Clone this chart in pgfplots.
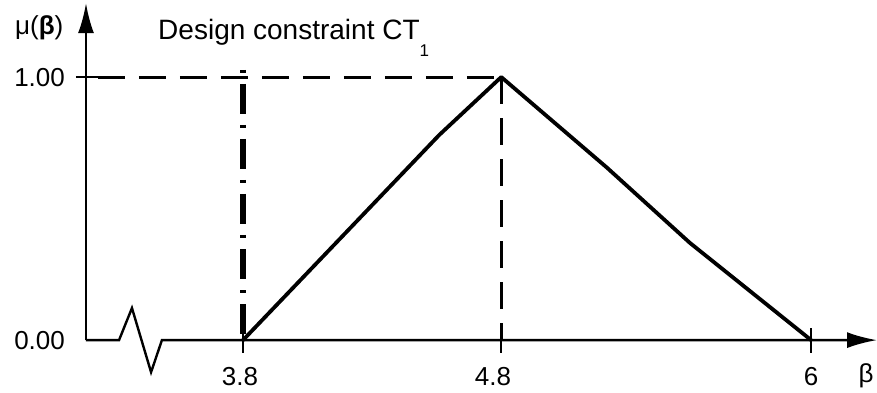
\documentclass[border=0pt]{standalone}
\usepackage{pgfplots}
\pgfplotsset{compat=1.18}
\usepackage{fontspec}
\setmainfont{Liberation Sans}
\usetikzlibrary{arrows.meta}
\tikzset{lbl/.style={font=\fontsize{26}{30}\selectfont, inner sep=0pt}}

\begin{document}
\begin{tikzpicture}
\begin{axis}[
    x=258.2pt, y=263pt,
    xmin=3.192, xmax=6.255,
    ymin=0, ymax=1.281,
    hide axis,
    clip=false,
]
% frame of the picture (used as bounding box below)
\coordinate (bl) at (axis cs:2.859,-0.198);
\coordinate (tr) at (axis cs:6.255,1.293);

% axes, with the break on the beta axis
\draw[line width=2.4pt, -{Latex[length=30pt,width=16pt]}]
    (axis cs:3.192,0) -- (axis cs:3.192,1.281);
\draw[line width=2.4pt, line join=miter, -{Latex[length=30pt,width=16pt]}]
    (axis cs:3.192,0) -- (axis cs:3.320,0) -- (axis cs:3.370,0.122)
    -- (axis cs:3.444,-0.122) -- (axis cs:3.486,0) -- (axis cs:6.255,0);

% ticks
\draw[line width=2.4pt] (axis cs:3.153,1) -- (axis cs:3.238,1);
\pgfplotsinvokeforeach{3.8,4.8,6}{
    \draw[line width=2.4pt] (axis cs:#1,0.046) -- (axis cs:#1,-0.049);
}

% helper lines
\addplot[black, line width=3pt, dash pattern=on 27pt off 14pt]
    coordinates {(3.238,1) (4.8,1)};
\addplot[black, line width=3pt, dash pattern=on 27pt off 14pt]
    coordinates {(4.8,1) (4.8,0)};

% design constraint
\addplot[black, line width=6pt, dash pattern=on 3pt off 11pt on 30pt off 11pt]
    coordinates {(3.8,1.027) (3.8,0)};

% membership function
\addplot[black, line width=3.8pt, line join=round]
    coordinates {(3.8,0) (4.56,0.78) (4.8,1) (5.21,0.655) (5.53,0.37) (6,0)};

% labels
\node[lbl, anchor=east] at (axis cs:3.111,1) {1.00};
\node[lbl, anchor=east] at (axis cs:3.111,0) {0.00};
\node[lbl, anchor=west] at (axis cs:2.917,1.186) {μ(\textbf{β})};
\node[lbl, font=\fontsize{28}{32}\selectfont, anchor=base west] at (axis cs:3.471,1.141)
    {Design constraint CT\raisebox{-17pt}{\fontsize{17}{17}\selectfont 1}};
\node[lbl, anchor=base] at (axis cs:3.788,-0.171) {3.8};
\node[lbl, anchor=base] at (axis cs:4.768,-0.171) {4.8};
\node[lbl, anchor=base] at (axis cs:6.0,-0.171) {6};
\node[lbl, anchor=base west] at (axis cs:6.183,-0.163) {β};
\end{axis}
\pgfresetboundingbox
\path[use as bounding box] (bl) rectangle (tr);
\end{tikzpicture}
\end{document}
